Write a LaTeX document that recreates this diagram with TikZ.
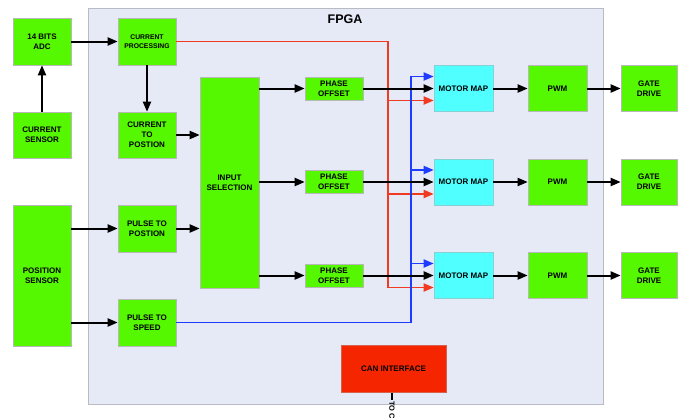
\documentclass[tikz,border=0pt]{standalone}
\usepackage{fontspec}
\setmainfont{Liberation Sans}
\usetikzlibrary{arrows.meta,calc}
\definecolor{boxgreen}{HTML}{55F800}
\definecolor{boxcyan}{HTML}{50FFFF}
\definecolor{boxred}{HTML}{F52500}
\definecolor{fpgabg}{HTML}{E6E9F6}
\definecolor{fpgaedge}{HTML}{B8BAC4}
\definecolor{linered}{HTML}{F03A22}
\definecolor{lineblue}{HTML}{1E3CFF}
\tikzset{
  blk/.style={draw=black!28, line width=0.6pt, fill=boxgreen, align=center,
    font=\fontsize{8}{9.8}\selectfont\bfseries, inner sep=1pt},
  mmap/.style={blk, fill=boxcyan, draw=boxcyan!70!black!60},
  arr/.style={line width=2pt, -{Triangle[length=10pt,width=8pt]}},
  redarr/.style={arr, draw=linered, line width=1.8pt},
  bluearr/.style={arr, draw=lineblue, line width=1.8pt},
}
\begin{document}
\begin{tikzpicture}[x=1pt,y=-1pt]
\useasboundingbox (0,0) rectangle (683,418);
% FPGA region
\node[draw=fpgaedge, fill=fpgabg, line width=1pt, minimum width=515pt, minimum height=396pt, inner sep=0pt] (fpga) at (345.5,206) {};
\node[font=\fontsize{12.5}{14}\selectfont\bfseries] (fpgalbl) at (345,19) {FPGA};
% outside boxes
\node[blk, minimum width=58pt, minimum height=47pt] (adc) at (42,41.5) {14 BITS\\ADC};
\node[blk, minimum width=58pt, minimum height=46pt] (csens) at (42,135) {CURRENT\\SENSOR};
\node[blk, minimum width=58pt, minimum height=141pt] (psens) at (42,275.5) {POSITION\\SENSOR};
% FPGA boxes
\node[blk, minimum width=58pt, minimum height=47pt, font=\fontsize{6.8}{9}\selectfont\bfseries] (cproc) at (147,41.5) {CURRENT\\PROCESSING};
\node[blk, minimum width=58pt, minimum height=46pt] (c2p) at (147,135) {CURRENT\\TO\\POSTION};
\node[blk, minimum width=58pt, minimum height=47pt] (p2p) at (147,228.5) {PULSE TO\\POSTION};
\node[blk, minimum width=58pt, minimum height=47pt] (p2s) at (147,322.5) {PULSE TO\\SPEED};
\node[blk, minimum width=59pt, minimum height=211pt] (insel) at (229.5,182.5) {INPUT\\SELECTION};
\node[blk, minimum width=58pt, minimum height=23pt] (po1) at (334,88.5) {PHASE\\OFFSET};
\node[blk, minimum width=58pt, minimum height=23pt] (po2) at (334,182) {PHASE\\OFFSET};
\node[blk, minimum width=58pt, minimum height=23pt] (po3) at (334,275.5) {PHASE\\OFFSET};
\node[mmap, minimum width=59pt, minimum height=46pt] (mm1) at (463.5,88.5) {MOTOR MAP};
\node[mmap, minimum width=59pt, minimum height=46pt] (mm2) at (463.5,182) {MOTOR MAP};
\node[mmap, minimum width=59pt, minimum height=46pt] (mm3) at (463.5,275.5) {MOTOR MAP};
\node[blk, minimum width=59pt, minimum height=46pt] (pwm1) at (557.5,88.5) {PWM};
\node[blk, minimum width=59pt, minimum height=46pt] (pwm2) at (557.5,182) {PWM};
\node[blk, minimum width=59pt, minimum height=46pt] (pwm3) at (557.5,275.5) {PWM};
\node[blk, minimum width=56pt, minimum height=46pt] (gd1) at (649,88.5) {GATE\\DRIVE};
\node[blk, minimum width=56pt, minimum height=46pt] (gd2) at (649,182) {GATE\\DRIVE};
\node[blk, minimum width=56pt, minimum height=46pt] (gd3) at (649,275.5) {GATE\\DRIVE};
\node[blk, fill=boxred, draw=boxred!80!black!70, minimum width=105pt, minimum height=47pt] (can) at (393.5,369) {CAN INTERFACE};
% CAN output
\coordinate (canout) at (392,400);
\draw[line width=1.6pt] (can.south -| canout) -- (canout);
\node[rotate=-90, anchor=west, inner sep=1pt, font=\fontsize{7.5}{8}\selectfont\bfseries] (tocan) at (canout) {TO C};
% helper coordinates
\coordinate (rx) at (388,0);
\coordinate (bx) at (411,0);
\coordinate (r1) at ([yshift=-12pt]mm1.west);
\coordinate (r2) at ([yshift=-12pt]mm2.west);
\coordinate (r3) at ([yshift=-12pt]mm3.west);
\coordinate (b1) at ([yshift=12pt]mm1.west);
\coordinate (b2) at ([yshift=12pt]mm2.west);
\coordinate (b3) at ([yshift=12pt]mm3.west);
% red bus
\draw[redarr] (cproc.east) -| (r3 -| rx) -- (r3);
\draw[redarr] (r1 -| rx) -- (r1);
\draw[redarr] (r2 -| rx) -- (r2);
% blue bus
\draw[bluearr] (p2s.east) -| (b1 -| bx) -- (b1);
\draw[bluearr] (b2 -| bx) -- (b2);
\draw[bluearr] (b3 -| bx) -- (b3);
% black arrows
\draw[arr] (csens.north) -- (adc.south);
\draw[arr] (adc.east) -- (cproc.west);
\draw[arr] (cproc.south) -- (c2p.north);
\draw[arr] (c2p.east) -- (c2p.east -| insel.west);
\draw[arr] (p2p.east) -- (p2p.east -| insel.west);
\draw[arr] (psens.east |- p2p.west) -- (p2p.west);
\draw[arr] (psens.east |- p2s.west) -- (p2s.west);
\draw[arr] (insel.east |- po1.west) -- (po1.west);
\draw[arr] (insel.east |- po2.west) -- (po2.west);
\draw[arr] (insel.east |- po3.west) -- (po3.west);
\draw[arr] (po1.east) -- (mm1.west);
\draw[arr] (po2.east) -- (mm2.west);
\draw[arr] (po3.east) -- (mm3.west);
\draw[arr] (mm1.east) -- (pwm1.west);
\draw[arr] (mm2.east) -- (pwm2.west);
\draw[arr] (mm3.east) -- (pwm3.west);
\draw[arr] (pwm1.east) -- (gd1.west);
\draw[arr] (pwm2.east) -- (gd2.west);
\draw[arr] (pwm3.east) -- (gd3.west);
\end{tikzpicture}
\end{document}
